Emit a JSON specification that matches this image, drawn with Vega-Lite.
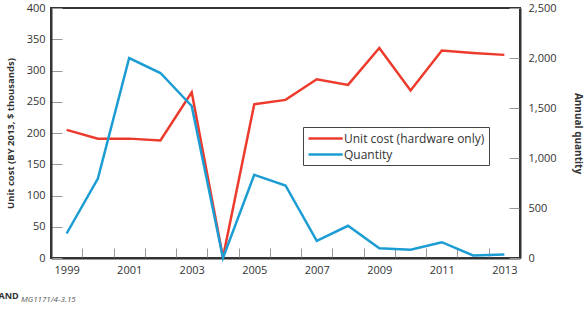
{
  "$schema": "https://vega.github.io/schema/vega-lite/v6.json",
  "width": 469,
  "height": 250,
  "autosize": {"type": "none"},
  "padding": {"left": 51, "top": 8, "right": 66, "bottom": 54},
  "background": "white",
  "title": {
    "text": "MG1171/4-3.15",
    "orient": "top",
    "anchor": "start",
    "frame": "group",
    "dx": -30,
    "dy": 308,
    "offset": 0,
    "baseline": "alphabetic",
    "fontSize": 8,
    "fontStyle": "italic",
    "fontWeight": "normal",
    "color": "#555"
  },
  "config": {
    "font": "Open Sans",
    "view": {"stroke": "#333", "strokeWidth": 2},
    "axis": {
      "grid": false,
      "domainColor": "#333",
      "domainWidth": 2,
      "tickColor": "#999",
      "tickWidth": 1,
      "labelColor": "#333",
      "labelFontSize": 11,
      "titleColor": "#333",
      "titleFontWeight": "bold"
    }
  },
  "data": {
    "values": [
      {"year": 1999, "cost": 205, "qty": 245},
      {"year": 2000, "cost": 191, "qty": 795},
      {"year": 2001, "cost": 191, "qty": 2000},
      {"year": 2002, "cost": 188, "qty": 1850},
      {"year": 2003, "cost": 265, "qty": 1520},
      {"year": 2004, "cost": 1, "qty": 0},
      {"year": 2005, "cost": 246, "qty": 832},
      {"year": 2006, "cost": 253, "qty": 725},
      {"year": 2007, "cost": 286, "qty": 172},
      {"year": 2008, "cost": 277, "qty": 322},
      {"year": 2009, "cost": 336, "qty": 98},
      {"year": 2010, "cost": 268, "qty": 82},
      {"year": 2011, "cost": 332, "qty": 158},
      {"year": 2012, "cost": 328, "qty": 25},
      {"year": 2013, "cost": 325, "qty": 34}
    ]
  },
  "encoding": {
    "x": {
      "field": "year",
      "type": "ordinal",
      "scale": {"type": "band", "paddingInner": 0, "paddingOuter": 0},
      "axis": {
        "tickBand": "extent",
        "tickSize": -10,
        "labelPadding": 16,
        "labelAngle": 0,
        "labelExpr": "datum.value % 2 == 1 ? datum.label : ''",
        "title": "RAND",
        "titleX": -59,
        "titleY": 40,
        "titleAlign": "left",
        "titleBaseline": "alphabetic",
        "titleFontSize": 9,
        "titleFontWeight": "bold",
        "titleAnchor": null
      }
    }
  },
  "layer": [
    {
      "mark": {"type": "line", "strokeWidth": 2.5},
      "encoding": {
        "y": {
          "field": "cost",
          "type": "quantitative",
          "scale": {"domain": [0, 400], "nice": false},
          "axis": {
            "title": "Unit cost (BY 2013, $ thousands)",
            "titleFontSize": 9.5,
            "values": [0, 50, 100, 150, 200, 250, 300, 350, 400],
            "tickSize": -11,
            "labelPadding": 17,
            "titlePadding": 11
          }
        },
        "color": {
          "datum": "Unit cost (hardware only)",
          "type": "nominal",
          "scale": {
            "domain": ["Unit cost (hardware only)", "Quantity"],
            "range": ["#ec3b2c", "#1b9dd4"]
          },
          "legend": {
            "orient": "none",
            "legendX": 252,
            "legendY": 119,
            "title": null,
            "symbolType": "M-1,0H4.7",
            "symbolSize": 144,
            "symbolStrokeWidth": 2.5,
            "labelFontSize": 12,
            "labelColor": "#333",
            "labelLimit": 300,
            "labelOffset": 22,
            "rowPadding": 2,
            "padding": 4,
            "fillColor": "white",
            "strokeColor": "#444"
          }
        }
      }
    },
    {
      "mark": {"type": "line", "strokeWidth": 2.5},
      "encoding": {
        "y": {
          "field": "qty",
          "type": "quantitative",
          "scale": {"domain": [0, 2500], "nice": false},
          "axis": {
            "orient": "right",
            "title": "Annual quantity",
            "titleFontSize": 10,
            "values": [0, 500, 1000, 1500, 2000, 2500],
            "format": ",d",
            "tickSize": -11,
            "labelPadding": 19,
            "titlePadding": 16
          }
        },
        "color": {"datum": "Quantity", "type": "nominal"}
      }
    }
  ],
  "resolve": {"scale": {"y": "independent"}}
}
